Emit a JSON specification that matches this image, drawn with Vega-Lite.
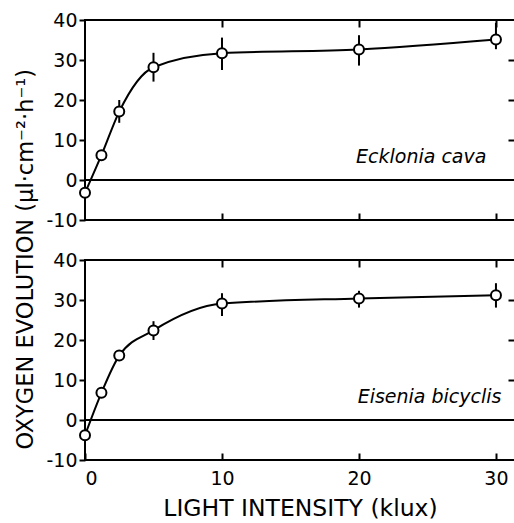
{
  "$schema": "https://vega.github.io/schema/vega-lite/v6.json",
  "padding": {"left": 15, "top": 10, "right": 0, "bottom": 0},
  "background": "white",
  "title": {"text": "OXYGEN EVOLUTION (μl·cm⁻²·h⁻¹)", "orient": "left", "anchor": "middle", "fontSize": 22.5, "fontWeight": "normal", "font": "DejaVu Sans", "color": "black", "offset": 7, "dx": 6},
  "datasets": {
    "ecklonia": [
      {"x": 0, "y": -3.2, "lo": -4.2, "hi": -2.2},
      {"x": 1.2, "y": 6.2, "lo": 5.2, "hi": 7.2},
      {"x": 2.5, "y": 17.1, "lo": 14.3, "hi": 20.0},
      {"x": 5, "y": 28.2, "lo": 24.6, "hi": 31.8},
      {"x": 10, "y": 31.7, "lo": 27.5, "hi": 35.6},
      {"x": 20, "y": 32.6, "lo": 28.6, "hi": 36.2},
      {"x": 30, "y": 35.1, "lo": 32.7, "hi": 39.3}
    ],
    "eisenia": [
      {"x": 0, "y": -3.8, "lo": -4.8, "hi": -2.8},
      {"x": 1.2, "y": 6.8, "lo": 5.8, "hi": 7.8},
      {"x": 2.5, "y": 16.1, "lo": 15.1, "hi": 17.1},
      {"x": 5, "y": 22.4, "lo": 20.0, "hi": 24.7},
      {"x": 10, "y": 29.1, "lo": 26.0, "hi": 31.7},
      {"x": 20, "y": 30.4, "lo": 28.1, "hi": 32.3},
      {"x": 30, "y": 31.2, "lo": 28.1, "hi": 34.2}
    ]
  },
  "bounds": "flush",
  "spacing": 40,
  "vconcat": [
    {
      "width": 430,
      "height": 200,
      "data": {"name": "ecklonia"},
      "resolve": {"scale": {"x": "shared", "y": "shared"}, "axis": {"x": "independent", "y": "independent"}},
      "layer": [
        {
          "mark": {"type": "rule", "color": "black", "strokeWidth": 2},
          "encoding": {
            "x": {"field": "x", "type": "quantitative", "scale": {"domain": [0, 31.39], "nice": false, "zero": false}, "axis": {"orient": "bottom", "values": [10, 20, 30], "labels": false, "tickSize": 7, "offset": -7, "title": null}},
            "y": {"field": "lo", "type": "quantitative", "scale": {"domain": [-10, 40], "nice": false}, "axis": {"orient": "left", "values": [-10, 0, 10, 20, 30, 40], "tickSize": 6, "labelPadding": 2, "title": null, "labelExpr": "datum.value < 0 ? '-' + abs(datum.value) : datum.label"}},
            "y2": {"field": "hi"}
          }
        },
        {
          "mark": {"type": "line", "interpolate": "monotone", "color": "black", "strokeWidth": 2},
          "encoding": {
            "x": {"field": "x", "type": "quantitative", "axis": {"orient": "top", "values": [10, 20, 30], "labels": false, "tickSize": 7, "offset": -7, "title": null}},
            "y": {"field": "y", "type": "quantitative", "axis": {"orient": "right", "values": [10, 20, 30], "labels": false, "tickSize": 7, "offset": -7, "title": null}}
          }
        },
        {
          "mark": {"type": "rule", "color": "black", "strokeWidth": 2},
          "encoding": {"y": {"datum": 0, "type": "quantitative", "axis": null}}
        },
        {
          "mark": {"type": "circle", "fill": "white", "stroke": "black", "strokeWidth": 2, "size": 100, "opacity": 1},
          "encoding": {
            "x": {"field": "x", "type": "quantitative", "axis": null},
            "y": {"field": "y", "type": "quantitative", "axis": null}
          }
        },
        {
          "data": {"values": [{"x": 29.3, "y": 4.3, "label": "Ecklonia cava"}]},
          "mark": {"type": "text", "align": "right", "baseline": "alphabetic", "fontStyle": "italic", "fontSize": 19, "font": "DejaVu Sans", "color": "black"},
          "encoding": {
            "x": {"field": "x", "type": "quantitative", "axis": null},
            "y": {"field": "y", "type": "quantitative", "axis": null},
            "text": {"field": "label"}
          }
        }
      ]
    },
    {
      "width": 430,
      "height": 200,
      "data": {"name": "eisenia"},
      "resolve": {"scale": {"x": "shared", "y": "shared"}, "axis": {"x": "independent", "y": "independent"}},
      "layer": [
        {
          "mark": {"type": "rule", "color": "black", "strokeWidth": 2},
          "encoding": {
            "x": {"field": "x", "type": "quantitative", "scale": {"domain": [0, 31.39], "nice": false, "zero": false}, "axis": {"orient": "bottom", "values": [0, 10, 20, 30], "tickSize": 7, "offset": -7, "labelPadding": 9, "title": "LIGHT INTENSITY (klux)", "titleFontSize": 23.5, "titlePadding": 8}},
            "y": {"field": "lo", "type": "quantitative", "scale": {"domain": [-10, 40], "nice": false}, "axis": {"orient": "left", "values": [-10, 0, 10, 20, 30, 40], "tickSize": 6, "labelPadding": 2, "title": null, "labelExpr": "datum.value < 0 ? '-' + abs(datum.value) : datum.label"}},
            "y2": {"field": "hi"}
          }
        },
        {
          "mark": {"type": "line", "interpolate": "monotone", "color": "black", "strokeWidth": 2},
          "encoding": {
            "x": {"field": "x", "type": "quantitative", "axis": {"orient": "top", "values": [10, 20, 30], "labels": false, "tickSize": 7, "offset": -7, "title": null}},
            "y": {"field": "y", "type": "quantitative", "axis": {"orient": "right", "values": [10, 20, 30], "labels": false, "tickSize": 7, "offset": -7, "title": null}}
          }
        },
        {
          "mark": {"type": "rule", "color": "black", "strokeWidth": 2},
          "encoding": {"y": {"datum": 0, "type": "quantitative", "axis": null}}
        },
        {
          "mark": {"type": "circle", "fill": "white", "stroke": "black", "strokeWidth": 2, "size": 100, "opacity": 1},
          "encoding": {
            "x": {"field": "x", "type": "quantitative", "axis": null},
            "y": {"field": "y", "type": "quantitative", "axis": null}
          }
        },
        {
          "data": {"values": [{"x": 30.4, "y": 4.3, "label": "Eisenia bicyclis"}]},
          "mark": {"type": "text", "align": "right", "baseline": "alphabetic", "fontStyle": "italic", "fontSize": 19, "font": "DejaVu Sans", "color": "black"},
          "encoding": {
            "x": {"field": "x", "type": "quantitative", "axis": null},
            "y": {"field": "y", "type": "quantitative", "axis": null},
            "text": {"field": "label"}
          }
        }
      ]
    }
  ],
  "config": {
    "view": {"stroke": "black", "strokeWidth": 2},
    "axis": {"domain": false, "grid": false, "tickColor": "black", "tickWidth": 2, "labelColor": "black", "labelFont": "DejaVu Sans", "labelFontSize": 19, "titleFont": "DejaVu Sans", "titleColor": "black", "titleFontWeight": "normal"},
    "font": "DejaVu Sans"
  }
}
